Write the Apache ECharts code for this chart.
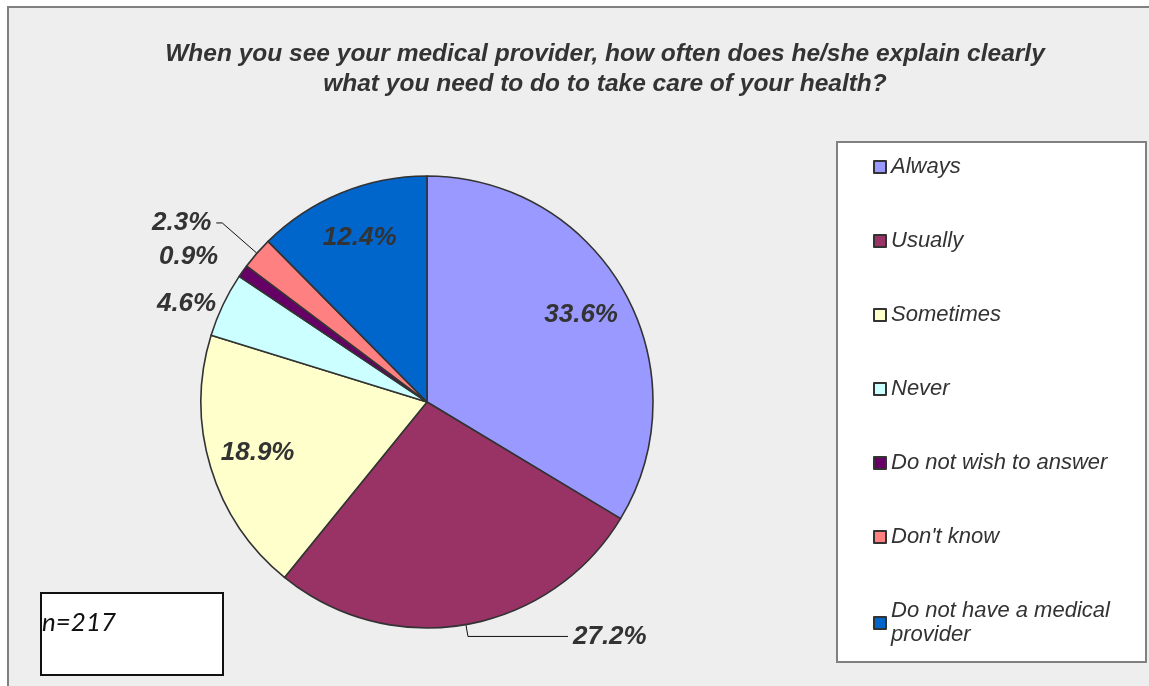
<!DOCTYPE html>
<html>
<head>
<meta charset="utf-8">
<script src="https://cdn.jsdelivr.net/npm/echarts@6/dist/echarts.min.js"></script>
<style>
  html, body { margin: 0; padding: 0; background: #fff; }
  #chart { width: 1149px; height: 686px; }
</style>
</head>
<body>
<div id="chart"></div>
<script>
// survey answers, in drawing order (clockwise from 12 o'clock)
var answers = ['Always', 'Usually', 'Sometimes', 'Never', 'Do not wish to answer', "Don't know", 'Do not have a medical provider'];
var shares = [33.6, 27.2, 18.9, 4.6, 0.9, 2.3, 12.4];
var sliceColors = ['#9999ff', '#993366', '#ffffcc', '#ccffff', '#660066', '#ff8080', '#0066cc'];
var insideLabel = [true, false, true, false, false, false, true];
var sampleSize = 'n=217';

var chart = echarts.init(document.getElementById('chart'), null, {renderer: 'canvas'});

// leader line lengths for the outside labels [first segment, horizontal segment, visible]
var leaderLines = {
    1: [12, 100, true],
    3: [2, 0, false],
    4: [24, 0, false],
    5: [46, 6, true]
};

var outerData = answers.map(function (name, i) {
    var item = {name: name, value: shares[i], itemStyle: {color: sliceColors[i]}};
    if (insideLabel[i]) {
        item.label = {show: false};
        item.labelLine = {show: false};
    } else {
        var l = leaderLines[i];
        item.labelLine = {show: l[2], length: l[0], length2: l[1]};
    }
    return item;
});

// invisible ring used only to place the inside labels further out
var innerLabelData = answers.map(function (name, i) {
    return {name: name, value: shares[i], label: {show: insideLabel[i]}};
});

var labelFont = {
    fontFamily: 'Liberation Sans',
    fontStyle: 'italic',
    fontWeight: 'bold',
    fontSize: 26,
    color: '#333333'
};

var option = {
    backgroundColor: '#ffffff',
    animation: false,
    title: {
        text: 'When you see your medical provider, how often does he/she explain clearly\nwhat you need to do to take care of your health?',
        left: 600,
        top: 34,
        textAlign: 'center',
        textStyle: {
            fontFamily: 'Liberation Sans',
            fontStyle: 'italic',
            fontWeight: 'bold',
            fontSize: 24.5,
            lineHeight: 30,
            color: '#333333'
        }
    },
    legend: {
        orient: 'vertical',
        left: 868,
        top: 150,
        itemWidth: 12,
        itemHeight: 12,
        itemGap: 50,
        icon: 'rect',
        data: answers,
        formatter: function (name) {
            return name === 'Do not have a medical provider' ? 'Do not have a medical\nprovider' : name;
        },
        textStyle: {
            fontFamily: 'Liberation Sans',
            fontStyle: 'italic',
            fontSize: 22,
            lineHeight: 24,
            color: '#333333'
        }
    },
    graphic: [
        {type: 'rect', z: -10, shape: {x: 8, y: 7, width: 1160, height: 700},
         style: {fill: '#eeeeee', stroke: '#808080', lineWidth: 2}},
        {type: 'rect', z: -5, shape: {x: 837, y: 142, width: 309, height: 520},
         style: {fill: '#ffffff', stroke: '#808080', lineWidth: 2}},
        {type: 'rect', z: -5, shape: {x: 41, y: 593, width: 182, height: 82},
         style: {fill: '#ffffff', stroke: '#111111', lineWidth: 2}},
        {type: 'text', left: 42, top: 610,
         style: {text: sampleSize, font: 'italic 26px Lato', fill: '#111111'}}
    ],
    series: [
        {
            type: 'pie',
            center: [427, 402],
            radius: 226,
            startAngle: 90,
            clockwise: true,
            data: outerData,
            avoidLabelOverlap: true,
            itemStyle: {borderColor: '#333333', borderWidth: 1.6},
            label: Object.assign({
                show: true,
                position: 'outside',
                formatter: '{c}%'
            }, labelFont),
            labelLine: {lineStyle: {color: '#111111', width: 1}},
            emphasis: {disabled: true}
        },
        {
            type: 'pie',
            center: [427, 402],
            radius: [0, 348],
            startAngle: 90,
            clockwise: true,
            silent: true,
            z: 5,
            data: innerLabelData,
            itemStyle: {color: 'rgba(0,0,0,0)', borderWidth: 0},
            label: Object.assign({
                position: 'inside',
                formatter: '{c}%'
            }, labelFont),
            labelLine: {show: false},
            emphasis: {disabled: true}
        }
    ]
};

chart.setOption(option);
</script>
</body>
</html>
